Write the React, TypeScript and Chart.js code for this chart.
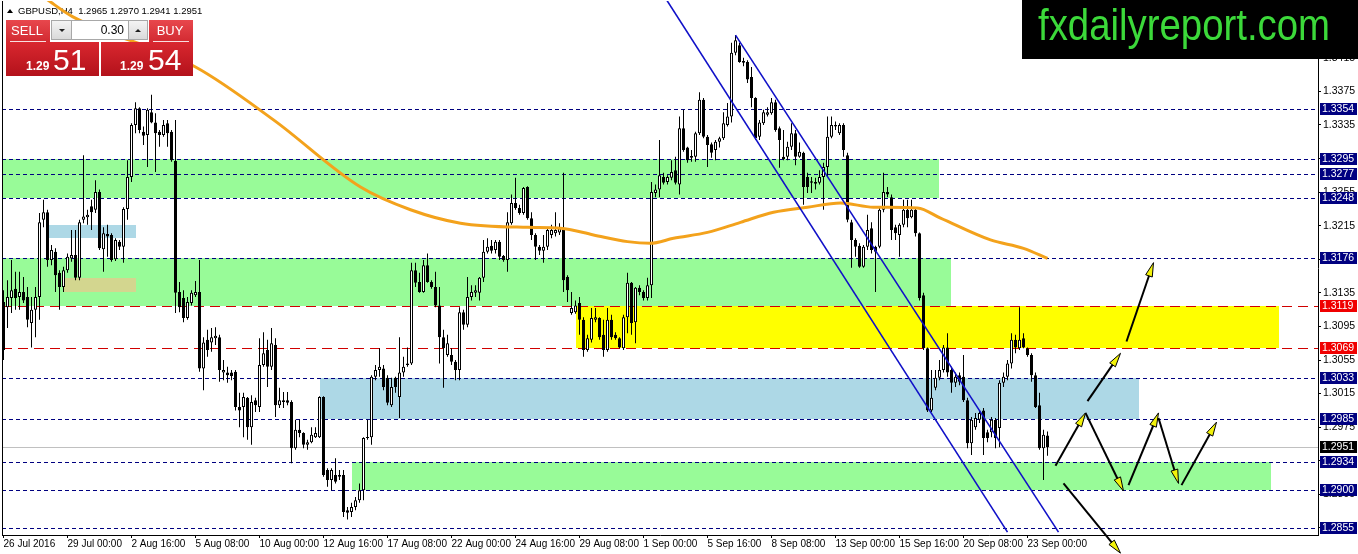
import React, { useEffect, useRef } from 'react';
import { Chart, registerables } from 'chart.js';
Chart.register(...registerables);

// ---- axis labels ----
const timeLabels = ['26 Jul 2016', '29 Jul 00:00', '2 Aug 16:00', '5 Aug 08:00', '10 Aug 00:00', '12 Aug 16:00', '17 Aug 08:00', '22 Aug 00:00', '24 Aug 16:00', '29 Aug 08:00', '1 Sep 00:00', '5 Sep 16:00', '8 Sep 08:00', '13 Sep 00:00', '15 Sep 16:00', '20 Sep 08:00', '23 Sep 00:00'];
const barsPerLabel = 16;
const priceTicks = [1.2855, 1.2895, 1.2935, 1.2975, 1.3015, 1.3055, 1.3095, 1.3135, 1.3175, 1.3215, 1.3255, 1.3295, 1.3335, 1.3375, 1.3415];

// ---- GBPUSD H4 candles ----
const opens = [
  1.3124, 1.3118, 1.3129, 1.3140, 1.3130, 1.3136, 1.3130, 1.3099, 1.3115, 1.3130,
  1.3222, 1.3231, 1.3174, 1.3184, 1.3159, 1.3142, 1.3162, 1.3176, 1.3180, 1.3153,
  1.3222, 1.3225, 1.3238, 1.3234, 1.3255, 1.3187, 1.3205, 1.3204, 1.3175, 1.3196,
  1.3190, 1.3235, 1.3273, 1.3335, 1.3355, 1.3327, 1.3323, 1.3350, 1.3338, 1.3327,
  1.3323, 1.3337, 1.3327, 1.3292, 1.3136, 1.3129, 1.3105, 1.3123, 1.3132, 1.3136,
  1.3045, 1.3079, 1.3076, 1.3081, 1.3082, 1.3040, 1.3040, 1.3040, 1.3041, 1.2999,
  1.2999, 1.3010, 1.2975, 1.3007, 1.2999, 1.3049, 1.3067, 1.3047, 1.3073, 1.3001,
  1.3005, 1.3007, 1.3005, 1.2950, 1.2972, 1.2968, 1.2954, 1.2957, 1.2963, 1.2963,
  1.3011, 1.2924, 1.2912, 1.2918, 1.2916, 1.2918, 1.2876, 1.2874, 1.2880, 1.2888,
  1.2900, 1.2962, 1.2963, 1.3035, 1.3043, 1.3045, 1.3034, 1.3001, 1.3034, 1.3011,
  1.3040, 1.3049, 1.3051, 1.3162, 1.3148, 1.3136, 1.3168, 1.3148, 1.3142, 1.3120,
  1.3082, 1.3061, 1.3061, 1.3053, 1.3043, 1.3112, 1.3097, 1.3130, 1.3135, 1.3135,
  1.3153, 1.3184, 1.3191, 1.3186, 1.3196, 1.3179, 1.3174, 1.3218, 1.3242, 1.3236,
  1.3230, 1.3261, 1.3224, 1.3204, 1.3190, 1.3185, 1.3190, 1.3204, 1.3206, 1.3207,
  1.3212, 1.3154, 1.3111, 1.3112, 1.3123, 1.3103, 1.3067, 1.3079, 1.3103, 1.3105,
  1.3085, 1.3067, 1.3103, 1.3085, 1.3081, 1.3069, 1.3106, 1.3147, 1.3100, 1.3141,
  1.3136, 1.3129, 1.3144, 1.3254, 1.3258, 1.3273, 1.3267, 1.3272, 1.3281, 1.3264,
  1.3331, 1.3308, 1.3296, 1.3297, 1.3325, 1.3365, 1.3321, 1.3312, 1.3305, 1.3315,
  1.3319, 1.3335, 1.3345, 1.3421, 1.3430, 1.3409, 1.3410, 1.3392, 1.3367, 1.3321,
  1.3337, 1.3347, 1.3349, 1.3362, 1.3331, 1.3297, 1.3297, 1.3309, 1.3325, 1.3297,
  1.3302, 1.3273, 1.3266, 1.3267, 1.3266, 1.3273, 1.3285, 1.3321, 1.3333, 1.3325,
  1.3335, 1.3299, 1.3219, 1.3198, 1.3191, 1.3166, 1.3190, 1.3212, 1.3190, 1.3190,
  1.3234, 1.3255, 1.3249, 1.3213, 1.3204, 1.3216, 1.3234, 1.3225, 1.3234, 1.3206,
  1.3132, 1.3069, 1.2995, 1.3022, 1.3034, 1.3043, 1.3070, 1.3043, 1.3028, 1.3037,
  1.3035, 1.3007, 1.2956, 1.2975, 1.2984, 1.2995, 1.2969, 1.2969, 1.2984, 1.2974,
  1.3028, 1.3035, 1.3051, 1.3079, 1.3069, 1.3081, 1.3069, 1.3061, 1.3037, 1.3001,
  1.2950, 1.2965,
];
const highs = [
  1.3138, 1.3150, 1.3174, 1.3160, 1.3160, 1.3154, 1.3142, 1.3130, 1.3142, 1.3230,
  1.3246, 1.3234, 1.3192, 1.3188, 1.3162, 1.3166, 1.3182, 1.3210, 1.3210, 1.3222,
  1.3299, 1.3234, 1.3246, 1.3269, 1.3258, 1.3213, 1.3216, 1.3206, 1.3200, 1.3198,
  1.3237, 1.3293, 1.3337, 1.3362, 1.3356, 1.3333, 1.3355, 1.3371, 1.3349, 1.3329,
  1.3341, 1.3341, 1.3329, 1.3341, 1.3148, 1.3138, 1.3130, 1.3138, 1.3149, 1.3174,
  1.3082, 1.3091, 1.3093, 1.3094, 1.3085, 1.3055, 1.3047, 1.3043, 1.3043, 1.3016,
  1.3016, 1.3011, 1.3013, 1.3010, 1.3081, 1.3088, 1.3079, 1.3093, 1.3081, 1.3022,
  1.3017, 1.3017, 1.3007, 1.2984, 1.2984, 1.2969, 1.2960, 1.2975, 1.2975, 1.3012,
  1.3012, 1.2926, 1.2926, 1.2938, 1.2924, 1.2924, 1.2880, 1.2885, 1.2892, 1.2908,
  1.2963, 1.2984, 1.3037, 1.3049, 1.3069, 1.3049, 1.3037, 1.3034, 1.3035, 1.3082,
  1.3059, 1.3070, 1.3171, 1.3171, 1.3159, 1.3174, 1.3182, 1.3150, 1.3160, 1.3142,
  1.3091, 1.3085, 1.3069, 1.3055, 1.3118, 1.3115, 1.3154, 1.3144, 1.3144, 1.3154,
  1.3198, 1.3200, 1.3198, 1.3198, 1.3198, 1.3180, 1.3231, 1.3252, 1.3272, 1.3240,
  1.3261, 1.3262, 1.3231, 1.3206, 1.3192, 1.3204, 1.3213, 1.3216, 1.3231, 1.3218,
  1.3278, 1.3156, 1.3136, 1.3126, 1.3130, 1.3106, 1.3085, 1.3117, 1.3117, 1.3106,
  1.3103, 1.3117, 1.3109, 1.3088, 1.3082, 1.3109, 1.3159, 1.3148, 1.3142, 1.3144,
  1.3138, 1.3153, 1.3267, 1.3264, 1.3317, 1.3278, 1.3275, 1.3293, 1.3297, 1.3345,
  1.3353, 1.3309, 1.3305, 1.3327, 1.3374, 1.3367, 1.3323, 1.3314, 1.3317, 1.3321,
  1.3350, 1.3361, 1.3433, 1.3442, 1.3433, 1.3415, 1.3412, 1.3404, 1.3368, 1.3341,
  1.3353, 1.3356, 1.3367, 1.3365, 1.3333, 1.3329, 1.3315, 1.3337, 1.3329, 1.3314,
  1.3303, 1.3278, 1.3273, 1.3272, 1.3281, 1.3290, 1.3345, 1.3345, 1.3339, 1.3337,
  1.3337, 1.3302, 1.3222, 1.3200, 1.3194, 1.3192, 1.3228, 1.3219, 1.3191, 1.3237,
  1.3278, 1.3261, 1.3252, 1.3216, 1.3218, 1.3246, 1.3246, 1.3246, 1.3237, 1.3207,
  1.3135, 1.3070, 1.3043, 1.3043, 1.3055, 1.3073, 1.3087, 1.3047, 1.3040, 1.3040,
  1.3061, 1.3010, 1.2987, 1.2992, 1.2995, 1.2998, 1.2972, 1.2987, 1.2986, 1.3031,
  1.3040, 1.3055, 1.3087, 1.3085, 1.3118, 1.3087, 1.3070, 1.3063, 1.3040, 1.3016,
  1.2972, 1.2970,
];
const lows = [
  1.3055, 1.3093, 1.3111, 1.3115, 1.3115, 1.3123, 1.3094, 1.3070, 1.3082, 1.3103,
  1.3213, 1.3166, 1.3168, 1.3136, 1.3115, 1.3136, 1.3159, 1.3172, 1.3150, 1.3150,
  1.3218, 1.3216, 1.3210, 1.3230, 1.3186, 1.3160, 1.3178, 1.3172, 1.3173, 1.3186,
  1.3171, 1.3222, 1.3267, 1.3325, 1.3325, 1.3311, 1.3285, 1.3337, 1.3279, 1.3309,
  1.3321, 1.3309, 1.3291, 1.3111, 1.3112, 1.3100, 1.3103, 1.3120, 1.3130, 1.3041,
  1.3019, 1.3059, 1.3065, 1.3073, 1.3029, 1.3031, 1.3028, 1.3031, 1.2995, 1.2975,
  1.2963, 1.2960, 1.2954, 1.2993, 1.2993, 1.3047, 1.3023, 1.3043, 1.2987, 1.2998,
  1.2998, 1.3001, 1.2932, 1.2948, 1.2963, 1.2950, 1.2948, 1.2956, 1.2962, 1.2962,
  1.2916, 1.2904, 1.2900, 1.2908, 1.2912, 1.2868, 1.2865, 1.2868, 1.2876, 1.2885,
  1.2888, 1.2960, 1.2954, 1.3031, 1.3035, 1.3019, 1.3001, 1.2999, 1.3016, 1.2986,
  1.3035, 1.3047, 1.3049, 1.3142, 1.3135, 1.3135, 1.3147, 1.3140, 1.3118, 1.3051,
  1.3022, 1.3059, 1.3049, 1.3031, 1.3031, 1.3091, 1.3094, 1.3126, 1.3130, 1.3126,
  1.3148, 1.3182, 1.3182, 1.3182, 1.3174, 1.3172, 1.3160, 1.3216, 1.3234, 1.3228,
  1.3228, 1.3222, 1.3198, 1.3174, 1.3180, 1.3171, 1.3186, 1.3200, 1.3202, 1.3204,
  1.3136, 1.3124, 1.3109, 1.3110, 1.3085, 1.3059, 1.3065, 1.3076, 1.3100, 1.3079,
  1.3059, 1.3065, 1.3079, 1.3079, 1.3069, 1.3067, 1.3087, 1.3085, 1.3075, 1.3132,
  1.3126, 1.3126, 1.3129, 1.3249, 1.3249, 1.3264, 1.3264, 1.3269, 1.3264, 1.3252,
  1.3303, 1.3290, 1.3291, 1.3291, 1.3323, 1.3319, 1.3285, 1.3296, 1.3293, 1.3308,
  1.3317, 1.3333, 1.3338, 1.3418, 1.3409, 1.3405, 1.3385, 1.3356, 1.3317, 1.3317,
  1.3335, 1.3345, 1.3347, 1.3327, 1.3284, 1.3293, 1.3293, 1.3305, 1.3287, 1.3296,
  1.3240, 1.3254, 1.3254, 1.3258, 1.3264, 1.3234, 1.3273, 1.3319, 1.3329, 1.3323,
  1.3297, 1.3219, 1.3165, 1.3178, 1.3165, 1.3165, 1.3186, 1.3182, 1.3136, 1.3188,
  1.3231, 1.3249, 1.3198, 1.3198, 1.3178, 1.3213, 1.3213, 1.3224, 1.3202, 1.3126,
  1.3067, 1.2993, 1.2993, 1.3019, 1.3031, 1.3040, 1.3035, 1.3016, 1.3023, 1.3025,
  1.3005, 1.2950, 1.2942, 1.2972, 1.2980, 1.2942, 1.2957, 1.2963, 1.2950, 1.2951,
  1.3023, 1.3031, 1.3045, 1.3063, 1.3067, 1.3069, 1.3059, 1.3029, 1.2998, 1.2948,
  1.2912, 1.2941,
];
const closes = [
  1.3067, 1.3130, 1.3138, 1.3129, 1.3136, 1.3126, 1.3103, 1.3115, 1.3130, 1.3219,
  1.3231, 1.3174, 1.3186, 1.3156, 1.3142, 1.3162, 1.3178, 1.3180, 1.3153, 1.3219,
  1.3226, 1.3228, 1.3231, 1.3255, 1.3188, 1.3206, 1.3202, 1.3174, 1.3198, 1.3190,
  1.3235, 1.3273, 1.3335, 1.3355, 1.3329, 1.3322, 1.3353, 1.3338, 1.3325, 1.3323,
  1.3335, 1.3325, 1.3293, 1.3135, 1.3118, 1.3105, 1.3124, 1.3135, 1.3136, 1.3045,
  1.3076, 1.3067, 1.3082, 1.3084, 1.3043, 1.3043, 1.3037, 1.3036, 1.2999, 1.2995,
  1.3011, 1.2975, 1.3005, 1.3001, 1.3049, 1.3063, 1.3047, 1.3075, 1.3001, 1.3007,
  1.3007, 1.3004, 1.2950, 1.2972, 1.2968, 1.2954, 1.2957, 1.2966, 1.2968, 1.3011,
  1.2918, 1.2912, 1.2924, 1.2910, 1.2918, 1.2874, 1.2873, 1.2880, 1.2888, 1.2900,
  1.2962, 1.2963, 1.3035, 1.3043, 1.3047, 1.3023, 1.3004, 1.3023, 1.3023, 1.3040,
  1.3047, 1.3051, 1.3162, 1.3147, 1.3136, 1.3168, 1.3148, 1.3142, 1.3120, 1.3082,
  1.3069, 1.3075, 1.3053, 1.3043, 1.3112, 1.3097, 1.3130, 1.3136, 1.3138, 1.3153,
  1.3184, 1.3190, 1.3185, 1.3196, 1.3178, 1.3174, 1.3219, 1.3242, 1.3236, 1.3230,
  1.3260, 1.3224, 1.3204, 1.3190, 1.3185, 1.3190, 1.3210, 1.3210, 1.3210, 1.3212,
  1.3150, 1.3138, 1.3117, 1.3120, 1.3103, 1.3067, 1.3081, 1.3105, 1.3106, 1.3082,
  1.3067, 1.3103, 1.3082, 1.3081, 1.3070, 1.3106, 1.3147, 1.3099, 1.3141, 1.3136,
  1.3129, 1.3144, 1.3255, 1.3258, 1.3275, 1.3266, 1.3273, 1.3279, 1.3266, 1.3331,
  1.3305, 1.3293, 1.3298, 1.3325, 1.3365, 1.3321, 1.3311, 1.3302, 1.3315, 1.3319,
  1.3337, 1.3345, 1.3421, 1.3436, 1.3410, 1.3411, 1.3389, 1.3367, 1.3319, 1.3338,
  1.3350, 1.3350, 1.3362, 1.3329, 1.3317, 1.3294, 1.3309, 1.3325, 1.3297, 1.3303,
  1.3261, 1.3261, 1.3268, 1.3265, 1.3273, 1.3285, 1.3321, 1.3335, 1.3335, 1.3335,
  1.3305, 1.3222, 1.3198, 1.3190, 1.3166, 1.3190, 1.3210, 1.3186, 1.3184, 1.3234,
  1.3255, 1.3252, 1.3210, 1.3206, 1.3216, 1.3234, 1.3224, 1.3234, 1.3206, 1.3129,
  1.3069, 1.2995, 1.3010, 1.3034, 1.3043, 1.3070, 1.3040, 1.3028, 1.3035, 1.3029,
  1.3007, 1.2956, 1.2984, 1.2986, 1.2992, 1.2962, 1.2962, 1.2984, 1.2962, 1.3028,
  1.3035, 1.3051, 1.3079, 1.3070, 1.3079, 1.3070, 1.3061, 1.3037, 1.2999, 1.2950,
  1.2966, 1.2951,
];
const headerText = 'GBPUSD,H4  1.2965 1.2970 1.2941 1.2951';

// ---- moving average (sampled) ----
const maBars = [6, 11, 17.25, 48, 67.5, 89.25, 101.75, 114.25, 131, 139.25, 147.5, 156, 161.75, 167.5, 176, 184.25, 192.5, 201, 209.25, 217.5, 228.5, 234.25, 246.75, 255, 261];
const maValues = [1.3501, 1.3484, 1.3464, 1.3404, 1.3341, 1.3261, 1.3234, 1.3218, 1.3213, 1.3212, 1.3204, 1.3196, 1.3194, 1.3200, 1.3207, 1.3219, 1.3231, 1.3237, 1.3242, 1.3237, 1.3236, 1.3224, 1.3198, 1.3188, 1.3176];

// ---- levels ----
const navyLevels = [1.3354, 1.3295, 1.3277, 1.3248, 1.3176, 1.3033, 1.2985, 1.2934, 1.2900, 1.2855];
const redLevels = [1.3119, 1.3069];
const bidLevel = 1.2951;

// ---- zones (bar range, price range) ----
const zoneFromBar = [-5, -5, 11, 14.75, 143, 79, 87];
const zoneToBar = [233.75, 236.75, 33, 33, 318.75, 283.75, 316.75];
const zoneTop = [1.3295, 1.3176, 1.3216, 1.3153, 1.3119, 1.3033, 1.2934];
const zoneBottom = [1.3248, 1.3119, 1.3200, 1.3136, 1.3069, 1.2985, 1.2900];
const zoneKinds = ['green', 'green', 'blue', 'khaki', 'yellow', 'blue', 'green'];

// ---- channel ----
const channelFromBar = [162, 183];
const channelFromPrice = [1.3512, 1.3442];
const channelToBar = [251, 263.75];
const channelToPrice = [1.2850, 1.2850];

// ---- arrows ----
const arrowFromBar = [263, 270.5, 271, 280.75, 281.25, 288.75, 294.5, 265];
const arrowFromPrice = [1.2929, 1.2992, 1.3006, 1.3077, 1.2906, 1.2986, 1.2906, 1.2908];
const arrowToBar = [270.5, 280, 279.25, 287.5, 288.75, 293.75, 303.25, 279.25];
const arrowToPrice = [1.2992, 1.2899, 1.3063, 1.3171, 1.2992, 1.2908, 1.2981, 1.2825];

const ZONE_COLORS: Record<string, string> = { green: '#98fb98', blue: '#add8e6', khaki: '#d3d68f', yellow: '#ffff00' };
const FONT = "'Liberation Sans', Arial, sans-serif";
const NARROW = "'Liberation Sans Narrow', 'Liberation Sans', Arial, sans-serif";

export default function App() {
  const ref = useRef<HTMLCanvasElement>(null);
  useEffect(() => {
    document.body.style.margin = '0';
    const canvas = ref.current!;
    const n = Math.min(opens.length, highs.length, lows.length, closes.length);
    const bodies: any[] = [];
    const wicks: any[] = [];
    const bodyColors: string[] = [];
    for (let i = 0; i < n; i++) {
      bodies.push({ x: i, y: [opens[i], closes[i]] });
      wicks.push({ x: i, y: [lows[i], highs[i]] });
      bodyColors.push(closes[i] >= opens[i] ? '#ffffff' : '#000000');
    }
    const ma = maBars.map((b, k) => ({ x: b, y: maValues[k] }));

    const X = (c: any, v: number) => c.scales.x.getPixelForValue(v);
    const Y = (c: any, v: number) => c.scales.y.getPixelForValue(v);

    const drawArrow = (ctx: CanvasRenderingContext2D, x1: number, y1: number, x2: number, y2: number) => {
      const a = Math.atan2(y2 - y1, x2 - x1);
      const L = 14, W = 3.5;
      const bx = x2 - L * Math.cos(a), by = y2 - L * Math.sin(a);
      ctx.strokeStyle = '#000';
      ctx.lineWidth = 2;
      ctx.beginPath();
      ctx.moveTo(x1, y1);
      ctx.lineTo(bx + 2 * Math.cos(a), by + 2 * Math.sin(a));
      ctx.stroke();
      ctx.beginPath();
      ctx.moveTo(x2, y2);
      ctx.lineTo(bx + W * Math.sin(a), by - W * Math.cos(a));
      ctx.lineTo(bx - W * Math.sin(a), by + W * Math.cos(a));
      ctx.closePath();
      ctx.fillStyle = '#f2f20a';
      ctx.fill();
      ctx.lineWidth = 1;
      ctx.stroke();
    };

    const priceBox = (ctx: CanvasRenderingContext2D, c: any, price: number, bg: string) => {
      const y = Math.round(Y(c, price));
      const x = c.chartArea.right + 2;
      ctx.fillStyle = bg;
      ctx.fillRect(x, y - 6, 37, 12);
      ctx.fillStyle = '#fff';
      ctx.font = `10.5px ${FONT}`;
      ctx.textAlign = 'left';
      ctx.textBaseline = 'middle';
      ctx.fillText(price.toFixed(4), x + 2, y + 0.5);
    };

    const overlay = {
      id: 'mt4overlay',
      beforeDatasetsDraw(c: any) {
        const ctx: CanvasRenderingContext2D = c.ctx;
        const a = c.chartArea;
        ctx.save();
        ctx.beginPath();
        ctx.rect(a.left, a.top, a.right - a.left, a.bottom - a.top);
        ctx.clip();
        zoneKinds.forEach((k, z) => {
          const x1 = X(c, zoneFromBar[z]);
          const x2 = X(c, zoneToBar[z]);
          const y1 = Y(c, zoneTop[z]);
          const y2 = Y(c, zoneBottom[z]);
          ctx.fillStyle = ZONE_COLORS[k];
          ctx.fillRect(Math.round(x1), Math.round(y1), Math.round(x2) - Math.round(x1), Math.round(y2) - Math.round(y1));
        });
        ctx.strokeStyle = '#c0c0c0';
        ctx.lineWidth = 1;
        const yy = Math.round(Y(c, bidLevel)) + 0.5;
        ctx.beginPath(); ctx.moveTo(a.left, yy); ctx.lineTo(a.right, yy); ctx.stroke();
        ctx.strokeStyle = '#000080';
        ctx.setLineDash([4, 3]);
        navyLevels.forEach(p => {
          const y = Math.round(Y(c, p)) + 0.5;
          ctx.beginPath(); ctx.moveTo(a.left, y); ctx.lineTo(a.right, y); ctx.stroke();
        });
        ctx.strokeStyle = '#d00000';
        ctx.setLineDash([10, 6]);
        redLevels.forEach(p => {
          const y = Math.round(Y(c, p)) + 0.5;
          ctx.beginPath(); ctx.moveTo(a.left, y); ctx.lineTo(a.right, y); ctx.stroke();
        });
        ctx.setLineDash([]);
        ctx.restore();
        ctx.save();
        ctx.strokeStyle = '#000';
        ctx.lineWidth = 1;
        ctx.beginPath(); ctx.moveTo(a.left + 0.5, a.top); ctx.lineTo(a.left + 0.5, a.bottom); ctx.stroke();
        ctx.fillStyle = '#000';
        ctx.beginPath(); ctx.moveTo(7, 13); ctx.lineTo(13, 13); ctx.lineTo(10, 9); ctx.closePath(); ctx.fill();
        ctx.font = `9.5px ${FONT}`;
        ctx.textAlign = 'left';
        ctx.textBaseline = 'middle';
        ctx.fillText(headerText, 18, 11);
        ctx.restore();
      },
      afterDatasetsDraw(c: any) {
        const ctx: CanvasRenderingContext2D = c.ctx;
        const a = c.chartArea;
        ctx.save();
        ctx.beginPath();
        ctx.rect(a.left, a.top, a.right - a.left, a.bottom - a.top);
        ctx.clip();
        ctx.strokeStyle = '#1010c8';
        ctx.lineWidth = 1.6;
        channelFromBar.forEach((b, k) => {
          ctx.beginPath();
          ctx.moveTo(X(c, b), Y(c, channelFromPrice[k]));
          ctx.lineTo(X(c, channelToBar[k]), Y(c, channelToPrice[k]));
          ctx.stroke();
        });
        ctx.restore();
        ctx.save();
        arrowFromBar.forEach((b, k) => {
          drawArrow(ctx, X(c, b), Y(c, arrowFromPrice[k]), X(c, arrowToBar[k]), Y(c, arrowToPrice[k]));
        });
        navyLevels.forEach(p => priceBox(ctx, c, p, '#000080'));
        redLevels.forEach(p => priceBox(ctx, c, p, '#f00000'));
        priceBox(ctx, c, bidLevel, '#000000');

        const redGrad = (y0: number, y1: number, top: string, bot: string) => {
          const g = ctx.createLinearGradient(0, y0, 0, y1);
          g.addColorStop(0, top); g.addColorStop(1, bot); return g;
        };
        ctx.fillStyle = redGrad(20, 42, '#e8474d', '#d22a31');
        ctx.fillRect(6, 20, 44, 22);
        ctx.fillRect(149, 20, 44, 22);
        ctx.fillStyle = redGrad(42, 76, '#d9272f', '#b3121b');
        ctx.fillRect(6, 42, 93, 34);
        ctx.fillRect(101, 42, 92, 34);
        ctx.strokeStyle = 'rgba(255,255,255,0.85)';
        ctx.lineWidth = 1;
        ctx.beginPath(); ctx.moveTo(10, 41.5); ctx.lineTo(46, 41.5); ctx.moveTo(153, 41.5); ctx.lineTo(189, 41.5); ctx.stroke();
        const gg = ctx.createLinearGradient(0, 21, 0, 40);
        gg.addColorStop(0, '#f4f4f4'); gg.addColorStop(1, '#d8d8d8');
        ctx.fillStyle = gg;
        ctx.fillRect(51, 21, 97, 19);
        ctx.fillStyle = '#ffffff';
        ctx.fillRect(72, 21, 56, 19);
        ctx.strokeStyle = '#a8a8a8';
        ctx.strokeRect(51.5, 20.5, 96, 19);
        ctx.beginPath(); ctx.moveTo(71.5, 21); ctx.lineTo(71.5, 40); ctx.moveTo(128.5, 21); ctx.lineTo(128.5, 40); ctx.stroke();
        ctx.fillStyle = '#202020';
        ctx.beginPath(); ctx.moveTo(59, 29); ctx.lineTo(65, 29); ctx.lineTo(62, 32); ctx.closePath(); ctx.fill();
        ctx.beginPath(); ctx.moveTo(135, 32); ctx.lineTo(141, 32); ctx.lineTo(138, 29); ctx.closePath(); ctx.fill();
        ctx.fillStyle = '#000';
        ctx.font = `12px ${FONT}`;
        ctx.textAlign = 'right';
        ctx.textBaseline = 'middle';
        ctx.fillText('0.30', 124, 31);
        ctx.fillStyle = '#fff';
        ctx.textAlign = 'center';
        ctx.font = `13px ${NARROW}`;
        ctx.fillText('SELL', 27, 31);
        ctx.fillText('BUY', 170, 31);
        ctx.textAlign = 'left';
        ctx.textBaseline = 'alphabetic';
        ctx.font = `bold 12px ${FONT}`;
        ctx.fillText('1.29', 26, 70);
        ctx.fillText('1.29', 120, 70);
        ctx.font = `30px ${NARROW}`;
        ctx.fillText('51', 53, 70);
        ctx.fillText('54', 148, 70);

        ctx.fillStyle = '#000';
        ctx.fillRect(1022, 0, 336, 59);
        ctx.fillStyle = '#3cd93a';
        ctx.font = `44px ${NARROW}`;
        ctx.textAlign = 'left';
        ctx.textBaseline = 'alphabetic';
        const txt = 'fxdailyreport.com';
        const w = ctx.measureText(txt).width;
        ctx.save();
        ctx.translate(1038, 40);
        ctx.scale(292 / w, 1);
        ctx.fillText(txt, 0, 0);
        ctx.restore();
        ctx.restore();
      },
    };

    const zeroPad = (s: any) => { s.paddingLeft = 0; s.paddingRight = 0; s.paddingTop = 0; s.paddingBottom = 0; };

    const chart = new Chart(canvas, {
      type: 'bar',
      data: {
        datasets: [
          {
            type: 'line', label: 'MA', data: ma as any, borderColor: '#f3a21c', borderWidth: 3,
            pointRadius: 0, cubicInterpolationMode: 'monotone', order: 0,
          } as any,
          {
            type: 'bar', label: 'bodies', data: bodies, backgroundColor: bodyColors, borderColor: '#000',
            borderWidth: 1, borderSkipped: false, barThickness: 3, grouped: false, minBarLength: 1,
            inflateAmount: 0, order: 1,
          } as any,
          {
            type: 'bar', label: 'wicks', data: wicks, backgroundColor: '#000', borderWidth: 0,
            barThickness: 1, grouped: false, inflateAmount: 0, order: 2,
          } as any,
        ],
      },
      options: {
        animation: false,
        responsive: false,
        devicePixelRatio: 1,
        events: [],
        layout: { padding: { left: 2, top: 1, right: 0, bottom: 0 } },
        plugins: { legend: { display: false }, tooltip: { enabled: false } },
        scales: {
          x: {
            type: 'linear', min: -0.375, max: 328.625, bounds: 'data', offset: false,
            afterBuildTicks: (s: any) => { s.ticks = timeLabels.map((_, k) => ({ value: k * barsPerLabel })); },
            afterFit: (s: any) => { s.height = 19; zeroPad(s); },
            ticks: {
              autoSkip: false, maxRotation: 0, minRotation: 0, align: 'start', padding: 0,
              color: '#000', font: { family: FONT, size: 10 },
              callback: (_v: any, idx: number) => timeLabels[idx],
            },
            grid: { drawOnChartArea: false, drawTicks: true, tickLength: 3, color: '#000', offset: false },
            border: { display: true, color: '#000' },
          } as any,
          y: {
            type: 'linear', position: 'right', min: 1.28466, max: 1.34826, bounds: 'data',
            afterBuildTicks: (s: any) => { s.ticks = priceTicks.map(v => ({ value: v })); },
            afterFit: (s: any) => { s.width = 40; zeroPad(s); },
            ticks: {
              padding: 2, color: '#000', font: { family: FONT, size: 10.5 },
              callback: (v: any) => Number(v).toFixed(4),
            },
            grid: { drawOnChartArea: false, drawTicks: true, tickLength: 3, color: '#000' },
            border: { display: true, color: '#000' },
          } as any,
        },
      },
      plugins: [overlay],
    });
    return () => chart.destroy();
  }, []);
  return (
    <div style={{ position: 'fixed', left: 0, top: 0, width: 1358, height: 554, background: '#fff' }}>
      <canvas ref={ref} width={1358} height={554} style={{ display: 'block', width: 1358, height: 554 }} />
    </div>
  );
}
